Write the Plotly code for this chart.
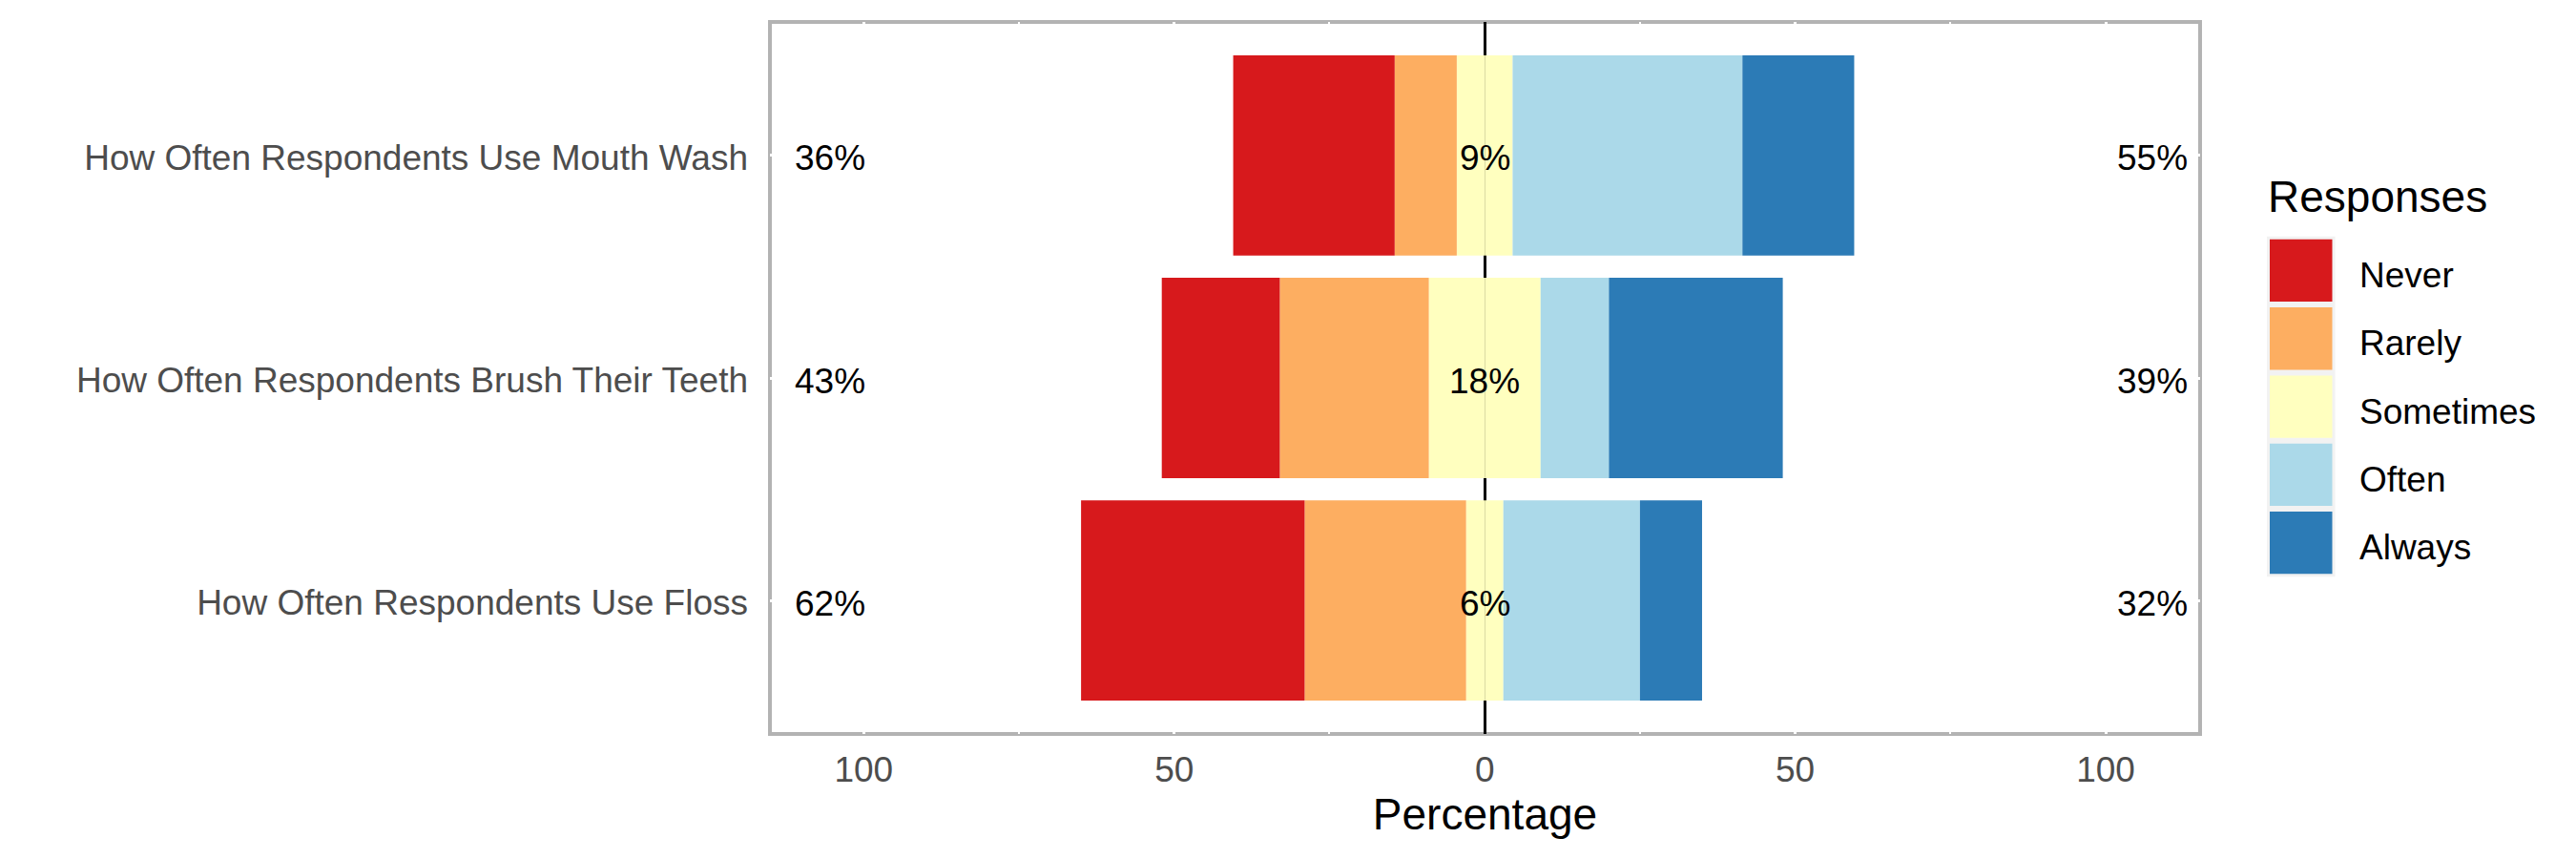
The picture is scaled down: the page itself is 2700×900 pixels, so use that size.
import plotly.graph_objects as go

# ---------------- data ----------------
questions = [
    "How Often Respondents Use Mouth Wash",
    "How Often Respondents Brush Their Teeth",
    "How Often Respondents Use Floss",
]
responses = ["Never", "Rarely", "Sometimes", "Often", "Always"]
never = [26, 19, 36]
rarely = [10, 24, 26]
sometimes = [9, 18, 6]
often = [37, 11, 22]
always = [18, 28, 10]
colors = ["#D7191C", "#FDAE61", "#FFFFBF", "#ABD9E9", "#2C7BB6"]
tick_vals = [-100, -50, 0, 50, 100]
tick_text = ["100", "50", "0", "50", "100"]

# ---------------- layout constants ----------------
OFF = 8                      # page body margin of the browser
W, H = 2700 - OFF, 900 - OFF
L, R, T, B = 807 - OFF, 2306 - OFF, 23 - OFF, 769 - OFF   # plot-area edges in pixels
FONT = "Liberation Sans, Arial, sans-serif"
LABEL_SHIFT = -3             # px, nudges bar labels down
LEGEND_SHIFT = -5            # px, nudges legend labels down

def px_x(p):
    return (p - OFF - L) / (R - L)

def px_y(p):
    return (B - (p - OFF)) / (B - T)

low = [n + r for n, r in zip(never, rarely)]
high = [o + a for o, a in zip(often, always)]

fig = go.Figure()

def add_bar(vals, name, color):
    fig.add_trace(go.Bar(
        y=questions, x=vals, orientation="h", name=name,
        marker=dict(color=color, line=dict(width=0)), width=0.9,
        showlegend=False,
        customdata=[abs(v) for v in vals],
        hovertemplate="%{y}<br>" + name + ": %{customdata}%<extra></extra>",
    ))

# negative side (stacked outward from 0)
add_bar([-s / 2 for s in sometimes], "Sometimes", colors[2])
add_bar([-r for r in rarely], "Rarely", colors[1])
add_bar([-n for n in never], "Never", colors[0])
# positive side
add_bar([s / 2 for s in sometimes], "Sometimes", colors[2])
add_bar(often, "Often", colors[3])
add_bar(always, "Always", colors[4])

annotations = []
label_font = dict(family=FONT, size=37, color="black")
# percentage labels (data coordinates)
for q, lo, hi, mid in zip(questions, low, high, sometimes):
    for xpos, val in ((-105.4, lo), (107.5, hi), (0, mid)):
        annotations.append(dict(xref="x", yref="y", x=xpos, y=q, text=f"{val}%",
                                showarrow=False, xanchor="center", yanchor="middle",
                                yshift=LABEL_SHIFT, font=label_font))

shapes = []
# panel border (below gridlines so white grid cuts through it)
shapes.append(dict(type="rect", xref="paper", yref="paper", x0=0, x1=1, y0=0, y1=1,
                   line=dict(color="#B3B3B3", width=4), fillcolor="rgba(0,0,0,0)",
                   layer="below"))

# manual legend (positions in screenshot pixels)
cell_top = 247.8
cell_h = 71.3
kx0, kx1 = 2376, 2447.5
shapes.append(dict(type="rect", xref="paper", yref="paper",
                   x0=px_x(kx0), x1=px_x(kx1),
                   y0=px_y(cell_top + cell_h * len(responses)), y1=px_y(cell_top),
                   line=dict(width=0), fillcolor="#F2F2F2", layer="above"))
for i, (resp, col) in enumerate(zip(responses, colors)):
    t0 = cell_top + cell_h * i
    shapes.append(dict(type="rect", xref="paper", yref="paper",
                       x0=px_x(kx0 + 3), x1=px_x(kx1 - 3),
                       y0=px_y(t0 + cell_h - 3), y1=px_y(t0 + 3),
                       line=dict(width=0), fillcolor=col, layer="above"))
    annotations.append(dict(xref="paper", yref="paper", x=px_x(2471), y=px_y(t0 + cell_h / 2),
                            xanchor="left", yanchor="middle", text=resp, showarrow=False,
                            yshift=LEGEND_SHIFT,
                            font=dict(family=FONT, size=37, color="black")))
annotations.append(dict(xref="paper", yref="paper", x=px_x(2375), y=px_y(205.5),
                        xanchor="left", yanchor="middle", text="Responses", showarrow=False,
                        font=dict(family=FONT, size=46, color="black")))

fig.update_layout(
    width=W, height=H,
    margin=dict(l=L, r=W - R, t=T, b=H - B, pad=0),
    paper_bgcolor="white", plot_bgcolor="white",
    barmode="relative", bargap=0.1,
    showlegend=False,
    shapes=shapes, annotations=annotations,
    font=dict(family=FONT),
)
fig.update_xaxes(
    range=[-115.1, 115.2],
    tickvals=tick_vals, ticktext=tick_text,
    tickfont=dict(family=FONT, size=37, color="#4D4D4D"),
    ticks="", ticklabelstandoff=12,
    showgrid=True, gridcolor="white", gridwidth=2.5,
    minor=dict(tickvals=[-75, -25, 25, 75], showgrid=True, gridcolor="white", gridwidth=1.5),
    zeroline=True, zerolinecolor="black", zerolinewidth=3,
    showline=False,
    title=dict(text="Percentage", font=dict(family=FONT, size=46, color="black"), standoff=7),
)
fig.update_yaxes(
    type="category", categoryorder="array", categoryarray=questions,
    range=[2.6, -0.6],
    tickfont=dict(family=FONT, size=37, color="#4D4D4D"),
    ticks="", ticklabelstandoff=22, ticklabelshift=-2,
    showgrid=True, gridcolor="white", gridwidth=2.5,
    zeroline=False, showline=False,
)

fig.write_html("out.html")
